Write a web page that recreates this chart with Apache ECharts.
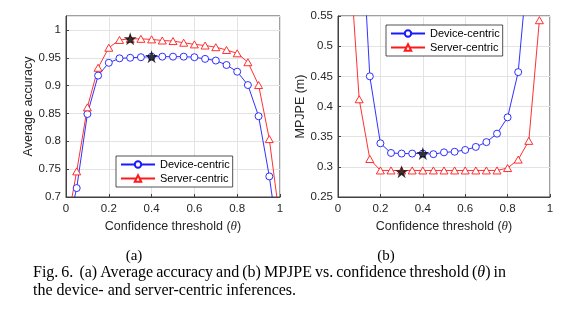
<!DOCTYPE html>
<html><head><meta charset="utf-8">
<script src="https://cdn.jsdelivr.net/npm/echarts@6/dist/echarts.min.js"></script>
<style>html,body{margin:0;padding:0;background:#fff}#c{width:567px;height:326px}</style>
</head><body><div id="c"></div>
<script>
// ---- data ----
var thetaA = [0, 0.05, 0.1, 0.15, 0.2, 0.25, 0.3, 0.35, 0.4, 0.45, 0.5, 0.55, 0.6, 0.65, 0.7, 0.75, 0.8, 0.85, 0.9, 0.95, 1.0];
var accDevice = [0.63, 0.716, 0.849, 0.918, 0.941, 0.949, 0.950, 0.951, 0.952, 0.952, 0.952, 0.952, 0.951, 0.948, 0.945, 0.937, 0.925, 0.901, 0.845, 0.737, 0.60];
var accServer = [0.64, 0.746, 0.861, 0.932, 0.968, 0.982, 0.984, 0.984, 0.983, 0.981, 0.980, 0.977, 0.974, 0.972, 0.969, 0.964, 0.958, 0.942, 0.901, 0.804, 0.656];
var thetaB = [0.05, 0.1, 0.15, 0.2, 0.25, 0.3, 0.35, 0.4, 0.45, 0.5, 0.55, 0.6, 0.65, 0.7, 0.75, 0.8, 0.85, 0.9, 0.95];
var mpjpeDevice = [null, 0.773, 0.450, 0.339, 0.323, 0.322, 0.322, 0.322, 0.321, 0.324, 0.325, 0.328, 0.333, 0.341, 0.355, 0.382, 0.457, 0.651, null];
var mpjpeServer = [0.673, 0.412, 0.313, 0.294, 0.294, 0.294, 0.294, 0.294, 0.294, 0.294, 0.294, 0.294, 0.294, 0.294, 0.294, 0.298, 0.312, 0.343, 0.543];
var bestAcc = [[0.4, 0.952], [0.3, 0.984]];
var bestMpjpe = [[0.4, 0.322], [0.3, 0.292]];
var xTicks = [0, 0.2, 0.4, 0.6, 0.8, 1];
var yTicksA = [0.7, 0.75, 0.8, 0.85, 0.9, 0.95, 1];
var yTicksB = [0.25, 0.3, 0.35, 0.4, 0.45, 0.5, 0.55];
var seriesNames = ['Device-centric', 'Server-centric'];
var subLabels = ['(a)', '(b)'];
var captionLine1 = ['Fig.', '6.', '(a)', 'Average', 'accuracy', 'and', '(b)', 'MPJPE', 'vs.', 'confidence', 'threshold', '(θ)', 'in'];
var captionLine2 = 'the device- and server-centric inferences.';

// ---- styling ----
var BLUE = '#1a1aff', RED = '#ff1a1a', AX = '#404040', GRID = '#e3e3e3';
var FONT = 'Liberation Sans, Arial, sans-serif';
var SERIF = 'Liberation Serif, Times New Roman, serif';
var CAP_SIZE = 16;

function starPath() {
  var pts = [];
  for (var i = 0; i < 10; i++) {
    var r = (i % 2 === 0) ? 1 : 0.382;
    var a = -Math.PI / 2 + i * Math.PI / 5;
    pts.push((r * Math.cos(a)).toFixed(4) + ',' + (r * Math.sin(a)).toFixed(4));
  }
  return 'path://M' + pts.join('L') + 'Z';
}
var STAR = starPath();

function zip(xs, ys) { return xs.map(function (x, i) { return [x, ys[i]]; }); }

function xAxisCfg(gi) {
  return {
    gridIndex: gi, type: 'value', min: 0, max: 1, interval: 0.2,
    name: 'Confidence threshold ({it|θ})', nameLocation: 'middle', nameGap: 23,
    nameTextStyle: { fontFamily: FONT, fontSize: 12.5, color: '#262626',
      rich: { it: { fontFamily: SERIF, fontStyle: 'italic', fontSize: 13, color: '#262626' } } },
    axisLine: { show: true, lineStyle: { color: AX, width: 1 } },
    axisTick: { show: true, inside: true, length: 3, lineStyle: { color: AX } },
    axisLabel: { fontFamily: FONT, fontSize: 11.5, color: '#262626', margin: 6,
      formatter: function (v) { var r = Math.round(v * 10) / 10; return xTicks.indexOf(r) >= 0 ? String(r) : ''; } },
    splitLine: { show: true, lineStyle: { color: GRID, width: 1 } }
  };
}
function yAxisCfg(gi, min, max, name, ticks) {
  return {
    gridIndex: gi, type: 'value', min: min, max: max, interval: 0.05,
    name: name, nameLocation: 'middle', nameGap: gi === 0 ? 27 : 30, nameRotate: 90,
    nameTextStyle: { fontFamily: FONT, fontSize: 12.5, color: '#262626' },
    axisLine: { show: true, lineStyle: { color: AX, width: 1 } },
    axisTick: { show: true, inside: true, length: 3, lineStyle: { color: AX } },
    axisLabel: { fontFamily: FONT, fontSize: 11.5, color: '#262626', margin: 5, showMaxLabel: ticks.indexOf(max) >= 0,
      formatter: function (v) { var r = Math.round(v * 100) / 100; return ticks.indexOf(r) >= 0 ? String(r) : ''; } },
    splitLine: { show: true, lineStyle: { color: GRID, width: 1 } }
  };
}
function lineSeries(name, data, gi, color, sym, size) {
  return {
    name: name, type: 'line', xAxisIndex: gi, yAxisIndex: gi, data: data,
    symbol: sym, symbolSize: size, showAllSymbol: true, clip: true,
    lineStyle: { color: color, width: 0.9 },
    itemStyle: { color: '#ffffff', borderColor: color, borderWidth: 0.9 },
    emphasis: { disabled: true }, animation: false, z: 3
  };
}
function starSeries(data, gi) {
  return {
    type: 'scatter', xAxisIndex: gi, yAxisIndex: gi, data: data,
    symbol: STAR, symbolSize: 13, itemStyle: { color: '#000' }, z: 5, animation: false,
    emphasis: { disabled: true }
  };
}
function legendCfg(left, top) {
  return {
    data: seriesNames, orient: 'vertical', left: left, top: top,
    itemWidth: 34, itemHeight: 8, itemGap: 3, padding: [3, 3, 3, 4],
    backgroundColor: '#fff', borderColor: '#262626', borderWidth: 0.8, borderRadius: 0,
    textStyle: { fontFamily: FONT, fontSize: 11, color: '#000' },
    selectedMode: false
  };
}

// justified caption line built from word tokens
var measureCtx = document.createElement('canvas').getContext('2d');
function wordWidth(w) {
  if (w.indexOf('θ') >= 0) {
    measureCtx.font = CAP_SIZE + 'px ' + SERIF;
    var a = measureCtx.measureText('()').width;
    measureCtx.font = 'italic ' + CAP_SIZE + 'px ' + SERIF;
    return a + measureCtx.measureText('θ').width;
  }
  measureCtx.font = CAP_SIZE + 'px ' + SERIF;
  return measureCtx.measureText(w).width;
}
function justifiedLine(words, x0, x1, y) {
  var widths = words.map(wordWidth);
  var total = widths.reduce(function (s, v) { return s + v; }, 0);
  var weights = words.map(function (w, i) { return i === 0 ? 0 : (i === 2 ? 2 : 1); });
  var wsum = weights.reduce(function (s, v) { return s + v; }, 0);
  var unit = (x1 - x0 - total) / wsum;
  var x = x0, out = [];
  words.forEach(function (w, i) {
    x += weights[i] * unit;
    var isTheta = w.indexOf('θ') >= 0;
    out.push({ type: 'text', x: x, y: y, silent: true, style: {
      text: isTheta ? '({it|θ})' : w, font: CAP_SIZE + 'px ' + SERIF, fill: '#000', verticalAlign: 'middle',
      rich: isTheta ? { it: { fontFamily: SERIF, fontStyle: 'italic', fontSize: CAP_SIZE, fill: '#000' } } : undefined } });
    x += widths[i];
  });
  return out;
}

var graphics = [
  { type: 'text', x: 134, y: 256, silent: true, style: { text: subLabels[0], font: '15px ' + SERIF, fill: '#000', align: 'center', verticalAlign: 'middle' } },
  { type: 'text', x: 386, y: 256, silent: true, style: { text: subLabels[1], font: '15px ' + SERIF, fill: '#000', align: 'center', verticalAlign: 'middle' } },
  { type: 'text', x: 33, y: 290.5, silent: true, style: { text: captionLine2, font: CAP_SIZE + 'px ' + SERIF, fill: '#000', verticalAlign: 'middle' } }
].concat(justifiedLine(captionLine1, 33, 506, 273));

var chart = echarts.init(document.getElementById('c'), null, { renderer: 'canvas' });
chart.setOption({
  animation: false,
  backgroundColor: '#fff',
  grid: [
    { left: 66, top: 16, width: 214, height: 181, show: true, borderColor: AX, borderWidth: 1, backgroundColor: '#fff' },
    { left: 338, top: 16, width: 212, height: 181, show: true, borderColor: AX, borderWidth: 1, backgroundColor: '#fff' }
  ],
  xAxis: [xAxisCfg(0), xAxisCfg(1)],
  yAxis: [
    yAxisCfg(0, 0.7, 1.025, 'Average accuracy', yTicksA),
    yAxisCfg(1, 0.25, 0.55, 'MPJPE (m)', yTicksB)
  ],
  legend: [legendCfg(116, 156), legendCfg(386, 25)],
  series: [
    lineSeries(seriesNames[0], zip(thetaA, accDevice), 0, BLUE, 'circle', 7),
    lineSeries(seriesNames[1], zip(thetaA, accServer), 0, RED, 'triangle', [8, 7]),
    starSeries(bestAcc, 0),
    lineSeries(seriesNames[0], zip(thetaB, mpjpeDevice), 1, BLUE, 'circle', 7),
    lineSeries(seriesNames[1], zip(thetaB, mpjpeServer), 1, RED, 'triangle', [8, 7]),
    starSeries(bestMpjpe, 1)
  ],
  graphic: graphics
});
</script></body></html>
